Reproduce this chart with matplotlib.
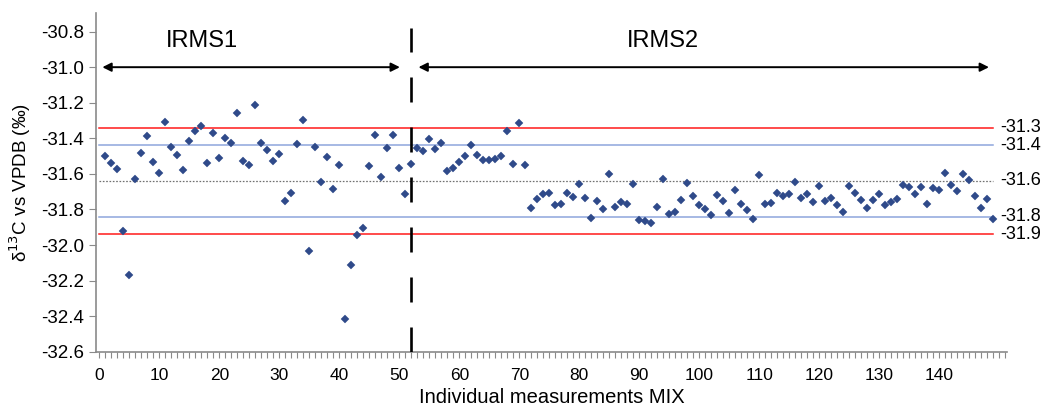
import numpy as np
import matplotlib
matplotlib.use('Agg')
import matplotlib.pyplot as plt

plt.rcParams['font.family'] = ['Liberation Sans', 'DejaVu Sans']
plt.rcParams['lines.scale_dashes'] = False

# d13C values of the MIX standard, measurements 1..149
d13c = [-31.498, -31.539, -31.573, -31.921, -32.167, -31.629, -31.481, -31.389, -31.532, -31.597,
        -31.310, -31.447, -31.492, -31.580, -31.417, -31.361, -31.333, -31.539, -31.370, -31.509,
        -31.398, -31.425, -31.256, -31.529, -31.552, -31.214, -31.428, -31.467, -31.529, -31.487,
        -31.751, -31.708, -31.434, -31.299, -32.032, -31.447, -31.644, -31.507, -31.687, -31.550,
        -32.414, -32.111, -31.944, -31.906, -31.557, -31.381, -31.618, -31.453, -31.383, -31.565,
        -31.713, -31.546, -31.456, -31.471, -31.406, -31.462, -31.428, -31.586, -31.565, -31.532,
        -31.501, -31.438, -31.496, -31.520, -31.520, -31.516, -31.501, -31.357, -31.544, -31.312,
        -31.552, -31.794, -31.743, -31.711, -31.709, -31.773, -31.772, -31.709, -31.730, -31.659,
        -31.734, -31.848, -31.752, -31.797, -31.602, -31.786, -31.758, -31.768, -31.659, -31.861,
        -31.863, -31.878, -31.786, -31.627, -31.827, -31.816, -31.745, -31.651, -31.726, -31.773,
        -31.796, -31.831, -31.717, -31.754, -31.822, -31.692, -31.769, -31.803, -31.852, -31.608,
        -31.771, -31.762, -31.709, -31.723, -31.715, -31.646, -31.734, -31.715, -31.758, -31.667,
        -31.754, -31.734, -31.777, -31.813, -31.667, -31.706, -31.745, -31.794, -31.749, -31.711,
        -31.775, -31.758, -31.743, -31.661, -31.676, -31.711, -31.676, -31.768, -31.678, -31.692,
        -31.593, -31.661, -31.698, -31.602, -31.635, -31.726, -31.790, -31.740, -31.855]
meas = np.arange(1, len(d13c) + 1)

mean_val = -31.64
sd_lines = [-31.44, -31.84]
lim_lines = [-31.34, -31.94]
right_labels = ['-31.3', '-31.4', '-31.6', '-31.8', '-31.9']
right_vals = [-31.34, -31.44, -31.64, -31.84, -31.94]
split_at = 52
yticks = np.round(np.arange(-32.6, -30.79, 0.2), 1)
xticks = np.arange(0, 141, 10)

fig = plt.figure(figsize=(10.45, 4.07), dpi=100)
ax = fig.add_axes([0.0922, 0.1359, 0.8714, 0.8314])

x_end = meas[-1]
for v in lim_lines:
    ax.plot([0, x_end], [v, v], color='#ff1a1a', lw=1.1, zorder=2)
for v in sd_lines:
    ax.plot([0, x_end], [v, v], color='#8ea6dc', lw=1.1, zorder=2)
ax.plot([0, x_end], [mean_val, mean_val], color='#707070', lw=0.9, ls=(0, (1.2, 1.2)), zorder=2)

ax.plot(meas, d13c, ls='none', marker='D', ms=3.7, color='#2f4a8a', mec='#2f4a8a', mew=0.3, zorder=3)

# split between the two instruments
ax.plot([split_at, split_at], [-32.6, -30.78], color='black', lw=1.9,
        ls=(0, (18, 18)), zorder=4)

ax.annotate('', xy=(0.5, -31.0), xytext=(50.1, -31.0),
            arrowprops=dict(arrowstyle='<|-|>', color='black', lw=1.4, mutation_scale=13,
                            shrinkA=0, shrinkB=0))
ax.annotate('', xy=(53.2, -31.0), xytext=(148.3, -31.0),
            arrowprops=dict(arrowstyle='<|-|>', color='black', lw=1.4, mutation_scale=13,
                            shrinkA=0, shrinkB=0))
ax.text(17.1, -30.85, 'IRMS1', fontsize=17, ha='center', va='center')
ax.text(94, -30.85, 'IRMS2', fontsize=17, ha='center', va='center')

for lab, v in zip(right_labels, right_vals):
    ax.text(150.2, v, lab, fontsize=13, ha='left', va='center', clip_on=False)

ax.set_xlim(-0.5, 151.3)
ax.set_ylim(-32.6, -30.697)
ax.set_yticks(yticks)
ax.set_yticklabels(['%.1f' % t for t in yticks], fontsize=13.5)
ax.set_xticks(xticks)
ax.set_xticklabels([str(t) for t in xticks], fontsize=12.5)
ax.set_xticks(np.arange(0, 152, 1), minor=True)
ax.tick_params(axis='x', which='both', length=4, width=0.8, color='#8a8a8a', direction='out', pad=8)
ax.tick_params(axis='y', length=5, width=0.8, color='#8a8a8a', direction='out', pad=4)

for s in ['top', 'right']:
    ax.spines[s].set_visible(False)
for s in ['left', 'bottom']:
    ax.spines[s].set_color('#8a8a8a')
    ax.spines[s].set_linewidth(1.2)

ax.set_xlabel('Individual measurements MIX', fontsize=14.5, labelpad=3)
ax.set_ylabel('δ$^{13}$C vs VPDB (‰)', fontsize=13.5, labelpad=6)

fig.savefig('out.png', dpi=100)
